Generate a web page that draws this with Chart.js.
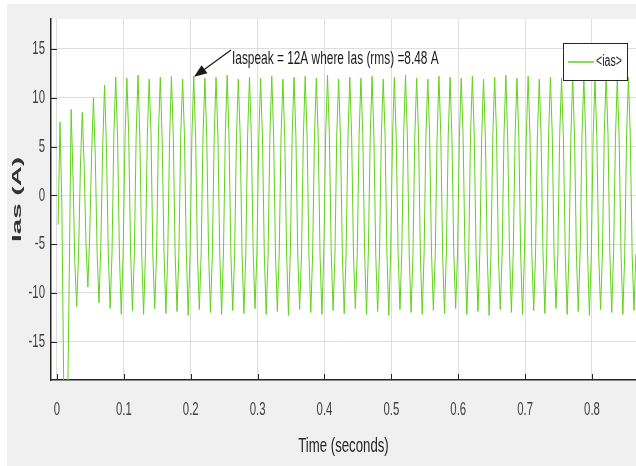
<!DOCTYPE html>
<html>
<head>
<meta charset="utf-8">
<script src="https://cdn.jsdelivr.net/npm/chart.js@4"></script>
<style>
  html, body { margin: 0; padding: 0; background: #fff; }
  #wrap { width: 636px; height: 466px; }
</style>
</head>
<body>
<div id="wrap"><canvas id="chart" width="636" height="466"></canvas></div>
<script>
// sampled phase current, 6 samples per 60 Hz cycle (one row per cycle)
const sampleStart = 0.0017;
const sampleStep = 1 / 360;
const iasValues = [
  -3.0, 7.5, -1.0, -19.5, -24.0, -23.0,
  -8.0, 8.8, 2.0, -7.0, -11.4, -6.0,
  3.0, 8.5, 3.0, -5.0, -9.4, -4.0,
  4.0, 10.0, 4.0, -6.0, -11.0, -5.0,
  5.0, 11.3, 5.0, -6.0, -11.6, -6.0,
  6.2, 12.1, 5.8, -6.1, -12.2, -5.9,
  5.9, 12.0, 6.1, -5.8, -11.8, -6.2,
  6.1, 12.3, 5.9, -6.0, -12.2, -6.0,
  6.0, 11.9, 6.2, -6.2, -11.6, -5.8,
  6.3, 12.1, 5.7, -5.9, -12.1, -6.1,
  5.8, 12.2, 6.0, -6.1, -11.9, -6.0,
  6.1, 11.9, 6.1, -5.8, -12.3, -6.2,
  6.0, 12.2, 5.9, -6.2, -11.7, -5.9,
  6.2, 12.0, 6.0, -6.0, -12.0, -6.1,
  5.9, 12.1, 6.2, -5.9, -12.2, -5.8,
  6.1, 12.3, 5.8, -6.1, -11.8, -6.0,
  6.0, 11.9, 6.1, -6.0, -12.1, -6.2,
  6.2, 12.1, 6.0, -5.8, -11.6, -5.9,
  5.8, 12.0, 5.9, -6.2, -12.2, -6.1,
  6.1, 12.2, 6.2, -6.0, -11.9, -6.0,
  6.0, 11.9, 5.8, -5.9, -12.3, -5.8,
  6.3, 12.1, 6.0, -6.1, -11.7, -6.2,
  5.9, 12.2, 6.1, -6.0, -12.0, -6.0,
  6.1, 12.0, 5.9, -6.2, -12.2, -5.9,
  6.0, 12.3, 6.2, -5.8, -11.8, -6.1,
  6.2, 11.9, 5.8, -6.0, -12.1, -6.0,
  5.8, 12.1, 6.0, -6.1, -11.6, -6.2,
  6.1, 12.0, 6.1, -5.9, -12.2, -5.8,
  6.0, 12.2, 5.9, -6.2, -11.9, -6.1,
  6.2, 11.9, 6.2, -6.0, -12.3, -6.0,
  5.9, 12.1, 5.8, -5.8, -11.7, -5.9,
  6.1, 12.3, 6.0, -6.1, -12.0, -6.2,
  6.0, 12.0, 6.1, -6.0, -12.2, -6.0,
  6.3, 11.9, 5.9, -5.9, -11.8, -6.1,
  5.8, 12.2, 6.2, -6.2, -12.1, -5.8,
  6.1, 12.1, 5.8, -6.0, -11.6, -6.0,
  6.0, 12.0, 6.0, -5.8, -12.2, -6.2,
  6.2, 12.2, 6.1, -6.1, -11.9, -5.9,
  5.9, 11.9, 5.9, -6.0, -12.3, -6.1,
  6.1, 12.1, 6.2, -6.2, -11.7, -6.0,
  6.0, 12.3, 5.8, -5.9, -12.0, -5.8,
  6.2, 12.0, 6.0, -6.1, -12.2, -6.2,
  5.8, 12.2, 6.1, -6.0, -11.8, -6.0,
  6.1, 11.9, 5.9, -5.8, -12.1, -5.9,
  6.0, 12.1, 6.2, -6.2, -11.6, -6.1,
  6.2, 12.0, 5.8, -6.0, -12.2, -6.0,
  5.9, 12.2, 6.0, -6.1, -11.9, -5.8,
  6.1, 12.1, 6.1, -5.9, -12.3, -6.2,
  6.0, 11.9, 5.9, -6.2, -11.7, -6.0,
  6.3, 12.3, 6.2, -6.0, -12.0, -5.9,
  5.8, 12.0, 5.8, -5.8, -12.2, -6.1,
  6.1, 12.1, 6.0, -6.1, -11.8, -6.0
];
const timeTicks = [0, 0.1, 0.2, 0.3, 0.4, 0.5, 0.6, 0.7, 0.8];
const iasTicks = [-15, -10, -5, 0, 5, 10, 15];

const points = iasValues.map((v, i) => ({ x: sampleStart + i * sampleStep, y: v }));

const sans = "'Liberation Sans', Arial, sans-serif";
const green = '#62d21c';

// the original is a squashed screenshot, so text is drawn horizontally compressed
function squish(ctx, text, x, y, size, sx, align, bold) {
  ctx.save();
  ctx.font = (bold ? 'bold ' : '') + size + 'px ' + sans;
  ctx.textBaseline = 'middle';
  ctx.textAlign = 'left';
  const w = ctx.measureText(text).width * sx;
  let left = x;
  if (align === 'right') left = x - w;
  if (align === 'center') left = x - w / 2;
  ctx.translate(left, y);
  ctx.scale(sx, 1);
  ctx.fillText(text, 0, 0);
  ctx.restore();
}

const background = {
  id: 'background',
  beforeDraw(chart) {
    const { ctx, chartArea: a } = chart;
    ctx.save();
    ctx.fillStyle = '#ffffff';
    ctx.fillRect(0, 0, chart.width, chart.height);
    ctx.fillStyle = '#f0f0f0';
    ctx.fillRect(7, 4, chart.width - 7, chart.height - 4);
    ctx.fillStyle = '#ffffff';
    ctx.fillRect(a.left, a.top, a.right - a.left, a.bottom - a.top);
    ctx.restore();
  }
};

const extras = {
  id: 'extras',
  afterDraw(chart) {
    const { ctx, chartArea: a } = chart;
    const x = chart.scales.x, y = chart.scales.y;
    ctx.save();

    // inward tick marks
    ctx.strokeStyle = '#262626';
    ctx.lineWidth = 1;
    ctx.beginPath();
    timeTicks.forEach(t => {
      const px = Math.round(x.getPixelForValue(t)) + 0.5;
      ctx.moveTo(px, a.bottom);
      ctx.lineTo(px, a.bottom - 6);
    });
    iasTicks.forEach(v => {
      const py = Math.round(y.getPixelForValue(v)) + 0.5;
      ctx.moveTo(a.left, py);
      ctx.lineTo(a.left + 6, py);
    });
    ctx.stroke();

    // tick labels and axis titles
    ctx.fillStyle = '#404040';
    timeTicks.forEach(t => squish(ctx, String(t), x.getPixelForValue(t), a.bottom + 30, 19, 0.6, 'center'));
    iasTicks.forEach(v => squish(ctx, String(v), a.left - 6, y.getPixelForValue(v), 19, 0.6, 'right'));
    ctx.fillStyle = '#262626';
    squish(ctx, 'Time (seconds)', (a.left + a.right) / 2, 446, 20, 0.66, 'center');
    ctx.save();
    ctx.translate(17, (a.top + a.bottom) / 2);
    ctx.rotate(-Math.PI / 2);
    ctx.fillStyle = '#333333';
    ctx.font = 'bold 13px ' + sans;
    const tw = ctx.measureText('Ias (A)').width;
    squish(ctx, 'Ias (A)', 0, 0, 13, 85 / tw, 'center', true);
    ctx.restore();

    // annotation
    const tipX = x.getPixelForValue(0.2049), tipY = y.getPixelForValue(12.14);
    const tailX = x.getPixelForValue(0.2602), tailY = y.getPixelForValue(14.9);
    const ang = Math.atan2(tipY - tailY, tipX - tailX);
    ctx.strokeStyle = '#1a1a1a';
    ctx.fillStyle = '#1a1a1a';
    ctx.lineWidth = 1.2;
    ctx.beginPath();
    ctx.moveTo(tailX, tailY);
    ctx.lineTo(tipX - 8 * Math.cos(ang), tipY - 8 * Math.sin(ang));
    ctx.stroke();
    ctx.beginPath();
    ctx.moveTo(tipX, tipY);
    ctx.lineTo(tipX - 13 * Math.cos(ang) + 5 * Math.sin(ang), tipY - 13 * Math.sin(ang) - 5 * Math.cos(ang));
    ctx.lineTo(tipX - 13 * Math.cos(ang) - 5 * Math.sin(ang), tipY - 13 * Math.sin(ang) + 5 * Math.cos(ang));
    ctx.closePath();
    ctx.fill();
    squish(ctx, 'Iaspeak = 12A where Ias (rms) =8.48 A', x.getPixelForValue(0.2617), y.getPixelForValue(13.98), 18, 0.66, 'left');

    // legend box
    const ds = chart.data.datasets[0];
    const bx = a.right - 73, by = a.top + 24, bw = 64, bh = 37;
    ctx.fillStyle = '#ffffff';
    ctx.fillRect(bx, by, bw, bh);
    ctx.strokeStyle = '#262626';
    ctx.lineWidth = 1;
    ctx.strokeRect(bx + 0.5, by + 0.5, bw, bh);
    ctx.strokeStyle = green;
    ctx.lineWidth = 1.5;
    ctx.beginPath();
    ctx.moveTo(bx + 5, by + 19);
    ctx.lineTo(bx + 31, by + 19);
    ctx.stroke();
    ctx.fillStyle = '#1a1a1a';
    squish(ctx, ds.label, bx + 33, by + 19, 16, 0.66, 'left');

    ctx.restore();
  }
};

new Chart(document.getElementById('chart'), {
  type: 'line',
  data: {
    datasets: [{
      label: '<ias>',
      data: points,
      borderColor: green,
      borderWidth: 1,
      pointRadius: 0,
      tension: 0,
      fill: false
    }]
  },
  options: {
    responsive: false,
    animation: false,
    layout: { padding: { top: 19, left: 0, right: 0, bottom: 0 } },
    plugins: { legend: { display: false }, tooltip: { enabled: false } },
    scales: {
      x: {
        type: 'linear',
        min: -0.00897,
        max: 0.8658,
        afterBuildTicks: s => { s.ticks = timeTicks.map(v => ({ value: v })); },
        afterFit: s => { s.height = 86; },
        grid: { color: '#dedede', drawTicks: false },
        border: { color: '#262626', width: 1.5 },
        ticks: { display: false }
      },
      y: {
        min: -18.92,
        max: 18.07,
        afterBuildTicks: s => { s.ticks = iasTicks.map(v => ({ value: v })); },
        afterFit: s => { s.width = 51; },
        grid: { color: '#dedede', drawTicks: false },
        border: { color: '#262626', width: 1.5 },
        ticks: { display: false }
      }
    }
  },
  plugins: [background, extras]
});
</script>
</body>
</html>
